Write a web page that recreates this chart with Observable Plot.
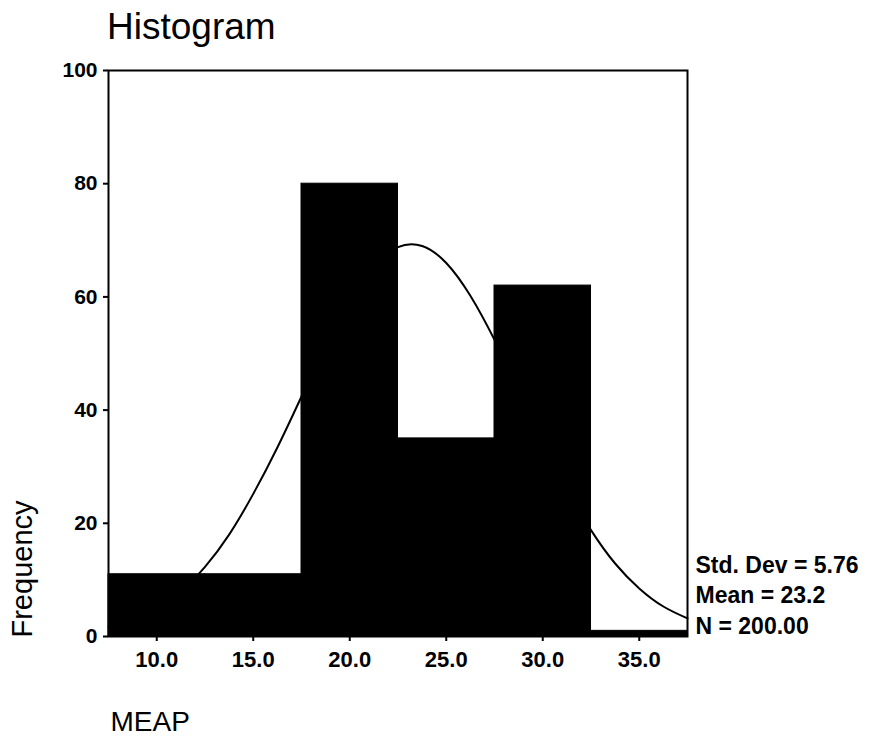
<!DOCTYPE html>
<html>
<head>
<meta charset="utf-8">
<script src="https://cdn.jsdelivr.net/npm/d3@7"></script>
<script src="https://cdn.jsdelivr.net/npm/@observablehq/plot@0.6"></script>
<style>
  body { margin: 0; background: #fff; font-family: "Liberation Sans", Arial, sans-serif; }
  #wrap { width: 870px; height: 740px; position: relative; }
  #title { height: 47px; padding-top: 8px; padding-left: 107px; font-size: 37px; line-height: 1; color: #000; }
  #chart svg { display: block; }
</style>
</head>
<body>
<div id="wrap">
  <div id="title">Histogram</div>
  <div id="chart"></div>
</div>
<script>
// Histogram bins (MEAP) and frequencies
const binLower = [7.5, 12.5, 17.5, 22.5, 27.5, 32.5];
const binUpper = [12.5, 17.5, 22.5, 27.5, 32.5, 37.5];
const counts   = [11, 11, 80, 35, 62, 1];

// Normal curve
const curveX = [7.5, 8.75, 10, 11.25, 12.5, 13.75, 15, 16.25, 17.5, 18.75, 20, 21.25, 22.5, 23.75, 25, 26.25, 27.5, 28.75, 30, 31.25, 32.5, 33.75, 35, 36.25, 37.5];
const curveY = [1.7, 3.0, 5.0, 8.0, 12.3, 18.0, 25.2, 33.4, 42.4, 51.4, 59.4, 65.4, 68.8, 69.0, 66.0, 60.2, 52.4, 43.5, 34.5, 26.1, 18.8, 12.9, 8.5, 5.3, 3.2];

// Tick values
const xTicks = [10, 15, 20, 25, 30, 35];
const yTicks = [0, 20, 40, 60, 80, 100];

// Texts
const xLabel = "MEAP";
const yLabel = "Frequency";
const statLines = ["Std. Dev = 5.76", "Mean = 23.2", "N = 200.00"];

const bins = counts.map((c, i) => ({x1: binLower[i], x2: binUpper[i], y: c}));
const curve = curveX.map((x, i) => ({x, y: curveY[i]}));

const font = "Liberation Sans, Arial, sans-serif";
const statLineGap = 30.5;

const plot = Plot.plot({
  width: 870,
  height: 685,
  marginTop: 15,
  marginBottom: 104,
  marginLeft: 108,
  marginRight: 183,
  style: {fontFamily: font, background: "#fff", color: "#000"},
  x: {domain: [7.5, 37.5]},
  y: {domain: [0, 100]},
  marks: [
    Plot.rectY(bins, {x1: "x1", x2: "x2", y: "y", fill: "black", stroke: "black", strokeWidth: 1}),
    Plot.line(curve, {x: "x", y: "y", stroke: "black", strokeWidth: 2, curve: "natural"}),
    Plot.frame({stroke: "black", strokeWidth: 2}),
    Plot.axisX({ticks: xTicks, tickFormat: d3.format(".1f"), tickSize: 5, tickPadding: 10,
      strokeWidth: 2, fontSize: 22, fontWeight: "bold", label: null}),
    Plot.axisY({ticks: yTicks, tickSize: 5, tickPadding: 6,
      strokeWidth: 2, fontSize: 21, fontWeight: "bold", label: null}),
    Plot.text([yLabel], {text: d => d, frameAnchor: "bottom-left", rotate: -90,
      textAnchor: "start", lineAnchor: "middle", dx: -86, dy: 1, fontSize: 29, fill: "black"}),
    Plot.text([xLabel], {text: d => d, frameAnchor: "bottom-left",
      textAnchor: "start", lineAnchor: "bottom", dx: 2, dy: 94, fontSize: 28, fill: "black"}),
    ...statLines.map((s, i) => Plot.text([s], {text: d => d, frameAnchor: "bottom-right",
      textAnchor: "start", lineAnchor: "bottom", dx: 8, dy: -3 - (statLines.length - 1 - i) * statLineGap,
      fontSize: 23, fontWeight: "bold", fill: "black"}))
  ]
});
document.getElementById("chart").appendChild(plot);
</script>
</body>
</html>
